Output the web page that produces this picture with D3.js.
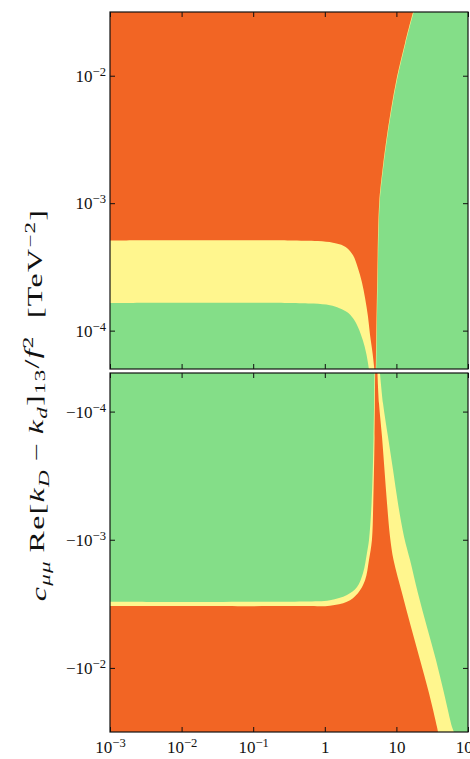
<!DOCTYPE html>
<html>
<head>
<meta charset="utf-8">
<script src="https://cdn.jsdelivr.net/npm/d3@7"></script>
<style>
body { margin: 0; background: #fff; }
svg { display: block; }
</style>
</head>
<body>
<svg id="chart" width="470" height="759"></svg>
<script>
// tick values and labels ([base, exponent])
var xTicks = [1e-3, 1e-2, 1e-1, 1, 10, 100];
var xTickLabels = [["10", "−3"], ["10", "−2"], ["10", "−1"], ["1", ""], ["10", ""], ["100", ""]];
var topTicks = [1e-2, 1e-3, 1e-4];
var topTickLabels = [["10", "−2"], ["10", "−3"], ["10", "−4"]];
var botTicks = [-1e-4, -1e-3, -1e-2];
var botTickLabels = [["−10", "−4"], ["−10", "−3"], ["−10", "−2"]];

// upper panel (positive coupling): region boundaries, [x, y]
var topOrangeYellow = [[1e-3, 5.1e-4], [0.3, 5.1e-4], [0.8, 5.04e-4], [1.3, 4.9e-4], [1.7, 4.72e-4], [2.04, 4.45e-4],
  [2.48, 3.9e-4], [2.9, 3.1e-4], [3.3, 2.4e-4], [3.65, 1.8e-4], [4.0, 1.3e-4], [4.28, 9.3e-5],
  [4.66, 6.6e-5], [4.92, 5.0e-5]];
var topYellowGreen = [[1e-3, 1.65e-4], [0.3, 1.65e-4], [0.7, 1.63e-4], [1.18, 1.58e-4], [1.6, 1.5e-4],
  [2.04, 1.4e-4], [2.48, 1.25e-4], [2.9, 1.07e-4], [3.4, 8.4e-5], [3.8, 6.6e-5], [4.14, 5.0e-5]];
var topRightOrange = [[5.19, 5e-5], [5.4, 2.5e-4], [5.75, 1.0e-3], [6.3, 1.7e-3], [7.16, 3.0e-3],
  [8.4, 5.4e-3], [10.2, 9.8e-3], [13.2, 1.81e-2], [17.1, 3.17e-2]];
var topRightYellow = [[5.26, 5e-5], [5.48, 2.5e-4], [5.84, 1.0e-3], [6.4, 1.7e-3], [7.28, 3.0e-3],
  [8.55, 5.4e-3], [10.4, 9.8e-3], [13.45, 1.81e-2], [17.45, 3.17e-2]];

// lower panel (negative coupling)
var botGreenYellow = [[1e-3, -3.04e-3], [0.5, -3.03e-3], [1.18, -2.96e-3], [2.04, -2.7e-3], [2.82, -2.34e-3],
  [3.42, -1.82e-3], [3.88, -1.27e-3], [4.14, -1.01e-3], [4.5, -5.2e-4], [4.8, -1.6e-4], [4.95, -5e-5]];
var botYellowOrange = [[1e-3, -3.29e-3], [0.5, -3.29e-3], [1.18, -3.27e-3], [2.04, -3.05e-3], [2.9, -2.61e-3],
  [3.65, -2.07e-3], [4.14, -1.44e-3], [4.55, -1.01e-3], [4.75, -5.2e-4], [4.95, -1.6e-4], [5.05, -5e-5]];
var botOrangeYellow = [[5.44, -5e-5], [5.71, -8.6e-5], [6.3, -1.58e-4], [6.82, -2.86e-4], [7.39, -5.17e-4],
  [8.15, -9.5e-4], [9.12, -1.44e-3], [12.0, -2.61e-3], [16.0, -4.8e-3], [21.4, -8.69e-3],
  [28.5, -1.57e-2], [36.9, -2.89e-2], [38.1, -3.17e-2]];
var botYellowGreen = [[5.9, -5e-5], [6.5, -8.6e-5], [7.64, -1.58e-4], [8.98, -2.86e-4], [10.5, -5.17e-4],
  [12.8, -9.5e-4], [15.5, -1.44e-3], [20.0, -2.61e-3], [26.7, -4.8e-3], [35.7, -8.69e-3],
  [46.2, -1.57e-2], [59.8, -2.89e-2], [63.7, -3.17e-2]];

var orange = "#f26524", yellow = "#fff68e", green = "#84de88";
var font = "'Liberation Serif', 'DejaVu Serif', serif";

var svg = d3.select("#chart");
var left = 110, right = 468;
var xMin = 1e-3, xMax = 100, yEdge = Math.pow(10, -1.5), yNear = 5e-5;

var x = d3.scaleLog().domain([xMin, xMax]).range([left, right]);
var yT = d3.scaleLog().domain([yNear, yEdge]).range([369, 12]);
var yB = d3.scaleLog().domain([-yNear, -yEdge]).range([373, 732]);

function sup(sel, parts) {
  sel.text(null);
  sel.append("tspan").text(parts[0]);
  if (parts[1]) sel.append("tspan").attr("dy", "-0.45em").attr("font-size", "0.74em").text(parts[1]);
}

// join smooth boundary curves and straight corner pieces into one closed path
function shape(y, parts) {
  var smooth = d3.line().curve(d3.curveCatmullRom.alpha(0.5))
    .x(function(d) { return x(d[0]); }).y(function(d) { return y(d[1]); });
  var straight = d3.line().x(function(d) { return x(d[0]); }).y(function(d) { return y(d[1]); });
  var d = "";
  parts.forEach(function(p, i) {
    var s = p.smooth ? smooth(p.pts) : straight(p.pts);
    d += i === 0 ? s : "L" + s.slice(1);
  });
  return d + "Z";
}

function panel(name, y, polys, yTicks, yLabels, showX) {
  var g = svg.append("g");
  var y0 = d3.min(y.range()), y1 = d3.max(y.range());
  g.append("clipPath").attr("id", "clip-" + name)
    .append("rect").attr("x", left).attr("y", y0).attr("width", right - left).attr("height", y1 - y0);

  var area = g.append("g").attr("clip-path", "url(#clip-" + name + ")");
  area.append("rect").attr("x", left).attr("y", y0).attr("width", right - left).attr("height", y1 - y0)
    .attr("fill", green);
  polys.forEach(function(p) {
    area.append("path").attr("d", shape(y, p.parts)).attr("fill", p.color).attr("stroke", "none");
  });

  // inward ticks on all four sides
  var gl = g.append("g").attr("transform", "translate(" + left + ",0)")
    .call(d3.axisLeft(y).tickValues(yTicks).tickSizeInner(-5).tickSizeOuter(0).tickPadding(4));
  gl.selectAll(".tick text").each(function(d, i) { sup(d3.select(this), yLabels[i]); });
  g.append("g").attr("transform", "translate(" + right + ",0)")
    .call(d3.axisRight(y).tickValues(yTicks).tickSizeInner(-5).tickSizeOuter(0).tickFormat(""));
  g.append("g").attr("transform", "translate(0," + y0 + ")")
    .call(d3.axisTop(x).tickValues(xTicks).tickSizeInner(-5).tickSizeOuter(0).tickFormat(""));
  var gb = g.append("g").attr("transform", "translate(0," + y1 + ")")
    .call(d3.axisBottom(x).tickValues(xTicks).tickSizeInner(-5).tickSizeOuter(0));
  if (showX) {
    gb.selectAll(".tick text").attr("y", 21).attr("dy", 0)
      .each(function(d, i) { sup(d3.select(this), xTickLabels[i]); });
  } else {
    gb.selectAll(".tick text").remove();
  }

  g.selectAll(".domain").remove();
  g.selectAll(".tick line").attr("stroke", "#111").attr("stroke-width", 1);
  g.selectAll(".tick text").attr("font-family", font).attr("font-size", 17).attr("fill", "#111");

  g.append("rect").attr("x", left).attr("y", y0).attr("width", right - left).attr("height", y1 - y0)
    .attr("fill", "none").attr("stroke", "#111").attr("stroke-width", 1.2);
}

var topPolys = [
  { color: yellow, parts: [{ pts: [[xMin, yEdge]] }, { smooth: 1, pts: topRightYellow.slice().reverse() }, { pts: [[xMin, yNear]] }] },
  { color: orange, parts: [{ pts: [[xMin, yEdge]] }, { smooth: 1, pts: topRightOrange.slice().reverse() }, { pts: [[xMin, yNear]] }] },
  { color: yellow, parts: [{ smooth: 1, pts: topOrangeYellow }, { pts: [[xMin, yNear]] }] },
  { color: green, parts: [{ smooth: 1, pts: topYellowGreen }, { pts: [[xMin, yNear]] }] }
];
var botPolys = [
  { color: yellow, parts: [{ smooth: 1, pts: botGreenYellow }, { smooth: 1, pts: botYellowGreen }, { pts: [[xMin, -yEdge]] }] },
  { color: orange, parts: [{ smooth: 1, pts: botYellowOrange }, { smooth: 1, pts: botOrangeYellow }, { pts: [[xMin, -yEdge]] }] }
];

panel("top", yT, topPolys, topTicks, topTickLabels, false);
panel("bot", yB, botPolys, botTicks, botTickLabels, true);

// y axis title, spread along its length as in the original figure
var title = svg.append("text")
  .attr("transform", "translate(46,405) rotate(-90) scale(1.6,1)")
  .attr("text-anchor", "middle")
  .attr("letter-spacing", 0.8)
  .attr("font-family", font).attr("font-size", 20).attr("fill", "#111");
function part(t, opts) {
  var s = title.append("tspan").text(t);
  if (opts && opts.it) s.attr("font-style", "italic");
  if (opts && opts.dy) s.attr("dy", opts.dy);
  if (opts && opts.small) s.attr("font-size", "0.72em");
  return s;
}
part("c", { it: 1 });
part("μμ", { it: 1, dy: "0.3em", small: 1 });
part("\u2009Re[", { dy: "-0.3em" });
part("k", { it: 1 });
part("D", { it: 1, dy: "0.3em", small: 1 });
part("\u2009−\u2009", { dy: "-0.3em" });
part("k", { it: 1 });
part("d", { it: 1, dy: "0.3em", small: 1 });
part("]", { dy: "-0.3em" });
part("13", { dy: "0.3em", small: 1 });
part("/", { dy: "-0.3em" });
part("f", { it: 1 });
part("2", { dy: "-0.45em", small: 1 });
part("\u2002[TeV", { dy: "0.45em" });
part("−2", { dy: "-0.45em", small: 1 });
part("]", { dy: "0.45em" });
</script>
</body>
</html>
